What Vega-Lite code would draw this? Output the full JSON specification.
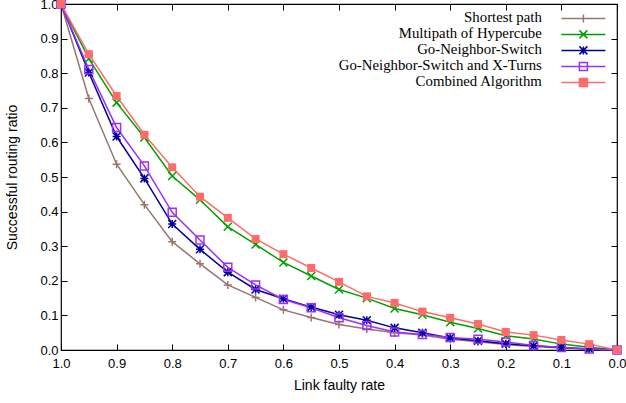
{
  "$schema": "https://vega.github.io/schema/vega-lite/v6.json",
  "width": 556,
  "height": 346,
  "autosize": "none",
  "padding": {"left": 61, "top": 4, "right": 9, "bottom": 53},
  "background": "white",
  "config": {
    "view": {"stroke": "black", "strokeWidth": 1.2},
    "axis": {"grid": false, "domain": false, "tickColor": "black", "tickWidth": 1, "tickSize": -6, "labelFont": "Liberation Sans", "labelFontSize": 13, "labelColor": "black", "titleFont": "Liberation Sans", "titleFontSize": 14, "titleFontWeight": "normal", "titleColor": "black"}
  },
  "datasets": {
    "d": [
      {"rate": 1.0, "series": "Shortest path", "ratio": 1.0},
      {"rate": 0.95, "series": "Shortest path", "ratio": 0.727},
      {"rate": 0.9, "series": "Shortest path", "ratio": 0.537},
      {"rate": 0.85, "series": "Shortest path", "ratio": 0.42},
      {"rate": 0.8, "series": "Shortest path", "ratio": 0.313},
      {"rate": 0.75, "series": "Shortest path", "ratio": 0.249},
      {"rate": 0.7, "series": "Shortest path", "ratio": 0.188},
      {"rate": 0.65, "series": "Shortest path", "ratio": 0.152},
      {"rate": 0.6, "series": "Shortest path", "ratio": 0.116},
      {"rate": 0.55, "series": "Shortest path", "ratio": 0.094},
      {"rate": 0.5, "series": "Shortest path", "ratio": 0.074},
      {"rate": 0.45, "series": "Shortest path", "ratio": 0.061},
      {"rate": 0.4, "series": "Shortest path", "ratio": 0.05},
      {"rate": 0.35, "series": "Shortest path", "ratio": 0.043},
      {"rate": 0.3, "series": "Shortest path", "ratio": 0.031},
      {"rate": 0.25, "series": "Shortest path", "ratio": 0.024},
      {"rate": 0.2, "series": "Shortest path", "ratio": 0.016},
      {"rate": 0.15, "series": "Shortest path", "ratio": 0.01},
      {"rate": 0.1, "series": "Shortest path", "ratio": 0.006},
      {"rate": 0.05, "series": "Shortest path", "ratio": 0.002},
      {"rate": 0.0, "series": "Shortest path", "ratio": 0.0},
      {"rate": 1.0, "series": "Multipath of Hypercube", "ratio": 1.0},
      {"rate": 0.95, "series": "Multipath of Hypercube", "ratio": 0.842},
      {"rate": 0.9, "series": "Multipath of Hypercube", "ratio": 0.715},
      {"rate": 0.85, "series": "Multipath of Hypercube", "ratio": 0.614},
      {"rate": 0.8, "series": "Multipath of Hypercube", "ratio": 0.503},
      {"rate": 0.75, "series": "Multipath of Hypercube", "ratio": 0.434},
      {"rate": 0.7, "series": "Multipath of Hypercube", "ratio": 0.356},
      {"rate": 0.65, "series": "Multipath of Hypercube", "ratio": 0.305},
      {"rate": 0.6, "series": "Multipath of Hypercube", "ratio": 0.253},
      {"rate": 0.55, "series": "Multipath of Hypercube", "ratio": 0.214},
      {"rate": 0.5, "series": "Multipath of Hypercube", "ratio": 0.175},
      {"rate": 0.45, "series": "Multipath of Hypercube", "ratio": 0.15},
      {"rate": 0.4, "series": "Multipath of Hypercube", "ratio": 0.12},
      {"rate": 0.35, "series": "Multipath of Hypercube", "ratio": 0.102},
      {"rate": 0.3, "series": "Multipath of Hypercube", "ratio": 0.08},
      {"rate": 0.25, "series": "Multipath of Hypercube", "ratio": 0.062},
      {"rate": 0.2, "series": "Multipath of Hypercube", "ratio": 0.041},
      {"rate": 0.15, "series": "Multipath of Hypercube", "ratio": 0.032},
      {"rate": 0.1, "series": "Multipath of Hypercube", "ratio": 0.017},
      {"rate": 0.05, "series": "Multipath of Hypercube", "ratio": 0.008},
      {"rate": 0.0, "series": "Multipath of Hypercube", "ratio": 0.0},
      {"rate": 1.0, "series": "Go-Neighbor-Switch", "ratio": 1.0},
      {"rate": 0.95, "series": "Go-Neighbor-Switch", "ratio": 0.802},
      {"rate": 0.9, "series": "Go-Neighbor-Switch", "ratio": 0.617},
      {"rate": 0.85, "series": "Go-Neighbor-Switch", "ratio": 0.496},
      {"rate": 0.8, "series": "Go-Neighbor-Switch", "ratio": 0.364},
      {"rate": 0.75, "series": "Go-Neighbor-Switch", "ratio": 0.291},
      {"rate": 0.7, "series": "Go-Neighbor-Switch", "ratio": 0.225},
      {"rate": 0.65, "series": "Go-Neighbor-Switch", "ratio": 0.175},
      {"rate": 0.6, "series": "Go-Neighbor-Switch", "ratio": 0.148},
      {"rate": 0.55, "series": "Go-Neighbor-Switch", "ratio": 0.124},
      {"rate": 0.5, "series": "Go-Neighbor-Switch", "ratio": 0.102},
      {"rate": 0.45, "series": "Go-Neighbor-Switch", "ratio": 0.086},
      {"rate": 0.4, "series": "Go-Neighbor-Switch", "ratio": 0.064},
      {"rate": 0.35, "series": "Go-Neighbor-Switch", "ratio": 0.05},
      {"rate": 0.3, "series": "Go-Neighbor-Switch", "ratio": 0.035},
      {"rate": 0.25, "series": "Go-Neighbor-Switch", "ratio": 0.027},
      {"rate": 0.2, "series": "Go-Neighbor-Switch", "ratio": 0.018},
      {"rate": 0.15, "series": "Go-Neighbor-Switch", "ratio": 0.012},
      {"rate": 0.1, "series": "Go-Neighbor-Switch", "ratio": 0.007},
      {"rate": 0.05, "series": "Go-Neighbor-Switch", "ratio": 0.003},
      {"rate": 0.0, "series": "Go-Neighbor-Switch", "ratio": 0.0},
      {"rate": 1.0, "series": "Go-Neighbor-Switch and X-Turns", "ratio": 1.0},
      {"rate": 0.95, "series": "Go-Neighbor-Switch and X-Turns", "ratio": 0.811},
      {"rate": 0.9, "series": "Go-Neighbor-Switch and X-Turns", "ratio": 0.643},
      {"rate": 0.85, "series": "Go-Neighbor-Switch and X-Turns", "ratio": 0.532},
      {"rate": 0.8, "series": "Go-Neighbor-Switch and X-Turns", "ratio": 0.398},
      {"rate": 0.75, "series": "Go-Neighbor-Switch and X-Turns", "ratio": 0.318},
      {"rate": 0.7, "series": "Go-Neighbor-Switch and X-Turns", "ratio": 0.239},
      {"rate": 0.65, "series": "Go-Neighbor-Switch and X-Turns", "ratio": 0.188},
      {"rate": 0.6, "series": "Go-Neighbor-Switch and X-Turns", "ratio": 0.146},
      {"rate": 0.55, "series": "Go-Neighbor-Switch and X-Turns", "ratio": 0.122},
      {"rate": 0.5, "series": "Go-Neighbor-Switch and X-Turns", "ratio": 0.093},
      {"rate": 0.45, "series": "Go-Neighbor-Switch and X-Turns", "ratio": 0.071},
      {"rate": 0.4, "series": "Go-Neighbor-Switch and X-Turns", "ratio": 0.052},
      {"rate": 0.35, "series": "Go-Neighbor-Switch and X-Turns", "ratio": 0.045},
      {"rate": 0.3, "series": "Go-Neighbor-Switch and X-Turns", "ratio": 0.036},
      {"rate": 0.25, "series": "Go-Neighbor-Switch and X-Turns", "ratio": 0.031},
      {"rate": 0.2, "series": "Go-Neighbor-Switch and X-Turns", "ratio": 0.023},
      {"rate": 0.15, "series": "Go-Neighbor-Switch and X-Turns", "ratio": 0.013},
      {"rate": 0.1, "series": "Go-Neighbor-Switch and X-Turns", "ratio": 0.007},
      {"rate": 0.05, "series": "Go-Neighbor-Switch and X-Turns", "ratio": 0.003},
      {"rate": 0.0, "series": "Go-Neighbor-Switch and X-Turns", "ratio": 0.0},
      {"rate": 1.0, "series": "Combined Algorithm", "ratio": 1.0},
      {"rate": 0.95, "series": "Combined Algorithm", "ratio": 0.855},
      {"rate": 0.9, "series": "Combined Algorithm", "ratio": 0.734},
      {"rate": 0.85, "series": "Combined Algorithm", "ratio": 0.622},
      {"rate": 0.8, "series": "Combined Algorithm", "ratio": 0.528},
      {"rate": 0.75, "series": "Combined Algorithm", "ratio": 0.443},
      {"rate": 0.7, "series": "Combined Algorithm", "ratio": 0.382},
      {"rate": 0.65, "series": "Combined Algorithm", "ratio": 0.321},
      {"rate": 0.6, "series": "Combined Algorithm", "ratio": 0.277},
      {"rate": 0.55, "series": "Combined Algorithm", "ratio": 0.237},
      {"rate": 0.5, "series": "Combined Algorithm", "ratio": 0.197},
      {"rate": 0.45, "series": "Combined Algorithm", "ratio": 0.155},
      {"rate": 0.4, "series": "Combined Algorithm", "ratio": 0.136},
      {"rate": 0.35, "series": "Combined Algorithm", "ratio": 0.111},
      {"rate": 0.3, "series": "Combined Algorithm", "ratio": 0.093},
      {"rate": 0.25, "series": "Combined Algorithm", "ratio": 0.075},
      {"rate": 0.2, "series": "Combined Algorithm", "ratio": 0.052},
      {"rate": 0.15, "series": "Combined Algorithm", "ratio": 0.043},
      {"rate": 0.1, "series": "Combined Algorithm", "ratio": 0.029},
      {"rate": 0.05, "series": "Combined Algorithm", "ratio": 0.017},
      {"rate": 0.0, "series": "Combined Algorithm", "ratio": 0.0}
    ]
  },
  "data": {"name": "d"},
  "encoding": {
    "x": {"field": "rate", "type": "quantitative", "scale": {"domain": [0, 1], "reverse": true, "nice": false}},
    "y": {"field": "ratio", "type": "quantitative", "scale": {"domain": [0, 1], "nice": false}}
  },
  "layer": [
    {
      "mark": {"type": "line", "strokeWidth": 1.5},
      "encoding": {
        "x": {"field": "rate", "type": "quantitative", "axis": {"orient": "bottom", "values": [0, 0.1, 0.2, 0.3, 0.4, 0.5, 0.6, 0.7, 0.8, 0.9, 1.0], "format": ".1f", "title": "Link faulty rate", "labelPadding": 13, "titlePadding": 8, "labelFlush": false}},
        "y": {"field": "ratio", "type": "quantitative", "axis": {"orient": "left", "values": [0, 0.1, 0.2, 0.3, 0.4, 0.5, 0.6, 0.7, 0.8, 0.9, 1.0], "format": ".1f", "title": "Successful routing ratio", "labelPadding": 9, "titlePadding": 20, "labelFlush": false}},
        "color": {
          "field": "series", "type": "nominal",
          "scale": {"domain": ["Shortest path", "Multipath of Hypercube", "Go-Neighbor-Switch", "Go-Neighbor-Switch and X-Turns", "Combined Algorithm"], "range": ["#98756f", "#00a000", "#00009a", "#9a30ff", "#ff6b6b"]},
          "legend": {
            "title": null, "orient": "none", "legendX": 515, "legendY": 7,
            "labelFont": "Liberation Serif", "labelFontSize": 14.8, "labelColor": "black", "labelLimit": 400,
            "labelAlign": "right", "labelOffset": -49,
            "symbolSize": 100, "rowPadding": 0, "padding": 0,
            "encode": {"symbols": {"update": {
              "shape": {"signal": "datum.value === 'Shortest path' ? 'M-4.4,0H4.4M0,-0.8V0.8' : datum.value === 'Multipath of Hypercube' ? 'M-4.4,0H4.4M-0.8,-0.8L0.8,0.8M-0.8,0.8L0.8,-0.8' : datum.value === 'Go-Neighbor-Switch' ? 'M-4.4,0H4.4M-0.8,-0.8L0.8,0.8M-0.8,0.8L0.8,-0.8M0,-0.8V0.8' : 'M-4.4,0H4.4M-0.8,-0.8H0.8V0.8H-0.8Z'"},
              "fill": {"signal": "datum.value === 'Combined Algorithm' ? '#ff6b6b' : 'transparent'"},
              "strokeWidth": {"value": 1.5}
            }}}
          }
        }
      }
    },
    {
      "transform": [{"filter": {"field": "series", "equal": "Shortest path"}}],
      "mark": {"type": "point", "shape": "M-1,0H1M0,-1V1", "size": 64, "strokeWidth": 1.5, "opacity": 1, "color": "#98756f"},
      "encoding": {
        "x": {"field": "rate", "type": "quantitative", "axis": {"orient": "top", "values": [0, 0.1, 0.2, 0.3, 0.4, 0.5, 0.6, 0.7, 0.8, 0.9, 1.0], "labels": false, "title": null}},
        "y": {"field": "ratio", "type": "quantitative", "axis": {"orient": "right", "values": [0, 0.1, 0.2, 0.3, 0.4, 0.5, 0.6, 0.7, 0.8, 0.9, 1.0], "labels": false, "title": null}}
      }
    },
    {
      "transform": [{"filter": {"field": "series", "equal": "Multipath of Hypercube"}}],
      "mark": {"type": "point", "shape": "M-1,-1L1,1M-1,1L1,-1", "size": 64, "strokeWidth": 1.5, "opacity": 1, "color": "#00a000"},
      "encoding": {"x": {"field": "rate", "type": "quantitative", "axis": null}, "y": {"field": "ratio", "type": "quantitative", "axis": null}}
    },
    {
      "transform": [{"filter": {"field": "series", "equal": "Go-Neighbor-Switch"}}],
      "mark": {"type": "point", "shape": "M-1,0H1M0,-1V1M-1,-1L1,1M-1,1L1,-1", "size": 64, "strokeWidth": 1.5, "opacity": 1, "color": "#00009a"},
      "encoding": {"x": {"field": "rate", "type": "quantitative", "axis": null}, "y": {"field": "ratio", "type": "quantitative", "axis": null}}
    },
    {
      "transform": [{"filter": {"field": "series", "equal": "Go-Neighbor-Switch and X-Turns"}}],
      "mark": {"type": "point", "shape": "M-1,-1H1V1H-1Z", "size": 64, "strokeWidth": 1.5, "opacity": 1, "color": "#9a30ff"},
      "encoding": {"x": {"field": "rate", "type": "quantitative", "axis": null}, "y": {"field": "ratio", "type": "quantitative", "axis": null}}
    },
    {
      "transform": [{"filter": {"field": "series", "equal": "Combined Algorithm"}}],
      "mark": {"type": "point", "shape": "M-1,-1H1V1H-1Z", "size": 64, "strokeWidth": 1.5, "opacity": 1, "filled": true, "color": "#ff6b6b"},
      "encoding": {"x": {"field": "rate", "type": "quantitative", "axis": null}, "y": {"field": "ratio", "type": "quantitative", "axis": null}}
    }
  ],
  "resolve": {"axis": {"x": "independent", "y": "independent"}}
}
